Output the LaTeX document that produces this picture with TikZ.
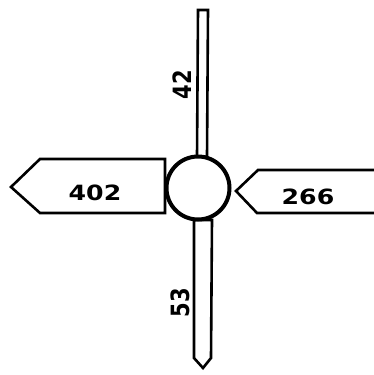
\documentclass[tikz,border=0pt]{standalone}
\usepackage{fontspec}
\setmainfont{DejaVu Sans}
\begin{document}
\begin{tikzpicture}[x=1pt,y=-1pt,
  outl/.style={draw=black,line width=2.6pt,line join=miter,fill=white},
  lbl/.style={font=\fontsize{21}{24}\selectfont\bfseries,inner sep=0pt}]
\useasboundingbox (0,0) rectangle (374,375);
% top bar
\draw[outl] (198,10) -- (208,10) -- (207,157) -- (197,157) -- cycle;
% bottom bar
\draw[outl] (194,220) -- (212,220) -- (211,358) -- (203,368) -- (194,358) -- cycle;
% left arrow
\draw[outl] (165,159) -- (40,159) -- (11,187) -- (40,213) -- (165,213) -- cycle;
% right arrow
\draw[outl] (376,170) -- (258,170) -- (236,191) -- (257,213) -- (376,213);
% hub
\node[circle,draw,line width=4pt,fill=white,minimum size=63pt,inner sep=0pt] (hub) at (198,188) {};
\node[lbl,xscale=1.2] (l402) at (95,193) {402};
\node[lbl,xscale=1.2] (l266) at (308,197) {266};
\node[lbl,rotate=90,yscale=1.2] (l42) at (182,85) {42};
\node[lbl,rotate=90,yscale=1.2] (l53) at (180,303) {53};
\end{tikzpicture}
\end{document}
